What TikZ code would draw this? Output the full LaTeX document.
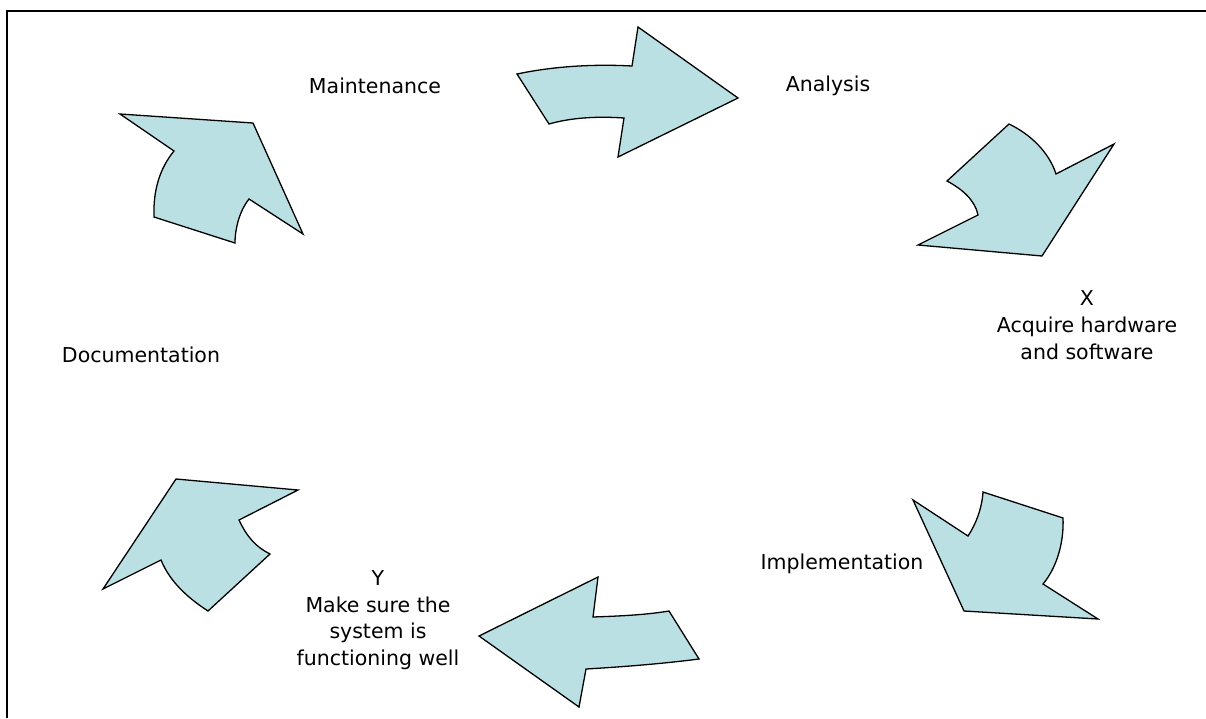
\documentclass[tikz,border=0pt]{standalone}
\usepackage{fontspec}
\setmainfont{DejaVu Sans}
\definecolor{arrowfill}{RGB}{187,224,227}
\tikzset{x=1pt,y=-1pt,
    bigarrow/.style={draw=black,line width=1.3pt,fill=arrowfill,line join=miter},
    stage/.style={align=center,inner sep=0pt,font=\fontsize{20.5}{26.7}\selectfont},
    }

\begin{document}
\begin{tikzpicture}
\useasboundingbox (0,0) rectangle (1206,718);
% frame: left and top edges only
\draw[line width=2pt] (7,718) -- (7,11) -- (1206,11);

% stages
\node[stage] (maint) at (375,86) {Maintenance};
\node[stage] (anal) at (828,86) {Analysis};
\node[stage] (acq) at (1087,325) {X\\Acquire hardware\\and software};
\node[stage] (impl) at (842,564) {Implementation};
\node[stage] (check) at (378,620) {Y\\Make sure the\\system is\\functioning well};
\node[stage] (doc) at (141,355) {Documentation};

% curved block arrows, clockwise from the top
\draw[bigarrow] (517,74) .. controls (555,66) and (595,64) .. (632,66) -- (638,27) -- (738,98)
    -- (618,157) -- (624,118) .. controls (595,116) and (570,118) .. (549,124) -- cycle;
\draw[bigarrow] (1009,124) .. controls (1030,134) and (1049,152) .. (1056,174) -- (1114,144)
    -- (1042,256) -- (918,245) -- (978,215) .. controls (975,200) and (962,189) .. (947,181) -- cycle;
\draw[bigarrow] (913,500) -- (968,536) .. controls (976,524) and (982,508) .. (983,492) -- (1063,518)
    .. controls (1064,540) and (1058,566) .. (1043,584) -- (1098,619) -- (964,611) -- cycle;
\draw[bigarrow] (598,577) -- (593,617) .. controls (620,616) and (645,615) .. (669,611) -- (699,659)
    .. controls (660,664) and (620,667) .. (586,669) -- (579,707) -- (479,636) -- cycle;
\draw[bigarrow] (176,479) -- (298,490) -- (239,520) .. controls (247,537) and (256,547) .. (270,554)
    -- (208,611) .. controls (188,598) and (170,582) .. (161,560) -- (103,589) -- cycle;
\draw[bigarrow] (120,114) -- (253,123) -- (303,234) -- (249,199) .. controls (240,210) and (235,228) .. (235,243)
    -- (154,217) .. controls (153,190) and (160,168) .. (174,151) -- cycle;
\end{tikzpicture}
\end{document}
